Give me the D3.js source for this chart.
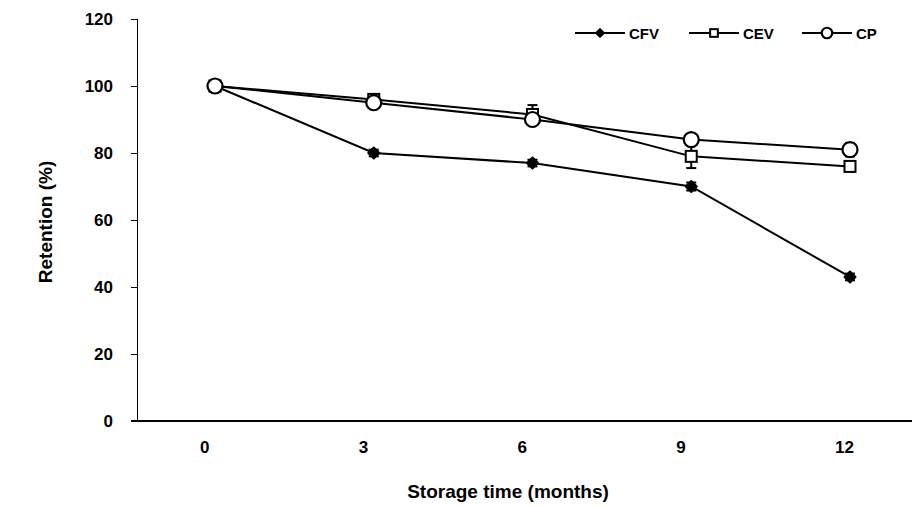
<!DOCTYPE html>
<html>
<head>
<meta charset="utf-8">
<script src="https://cdn.jsdelivr.net/npm/d3@7"></script>
<style>
  body { margin: 0; background: #fff; }
  text { font-family: "Liberation Sans", Arial, sans-serif; font-weight: bold; fill: #000; }
</style>
</head>
<body>
<svg width="915" height="507"></svg>
<script>
// data
var months = [0, 3, 6, 9, 12];
var yTicks = [0, 20, 40, 60, 80, 100, 120];

var cfv = [100, 80, 77, 70, 43];
var cfvErr = [0, 1, 1, 1.2, 1];
var cev = [100, 96, 91.5, 79, 76];
var cevErr = [0, 1, 2.8, 3.5, 1.5];
var cp = [100, 95, 90, 84, 81];
var cpErr = [0, 1, 1.5, 1, 2];

var svg = d3.select("svg");

var x = d3.scalePoint().domain(months).range([215, 850]);
var y = d3.scaleLinear().domain([0, 120]).range([421, 19]);

// y axis
var yAxis = svg.append("g")
    .attr("transform", "translate(137,0)")
    .call(d3.axisLeft(y).tickValues(yTicks).tickSize(6).tickPadding(18));
yAxis.attr("font-family", null).attr("font-size", null);
yAxis.select(".domain").attr("stroke", "#000").attr("d", "M0.5,19V421");
yAxis.selectAll(".tick line").attr("stroke", "#000").attr("x1", 0.5).attr("x2", -6);
yAxis.selectAll(".tick text").style("font-size", "17px");

// x axis line (thicker), no ticks
svg.append("line")
    .attr("x1", 131).attr("x2", 912)
    .attr("y1", y(0)).attr("y2", y(0))
    .attr("stroke", "#000").attr("stroke-width", 2);

svg.append("g").selectAll("text")
    .data(months)
    .enter().append("text")
    .attr("x", function(d) { return x(d) - 15; })
    .attr("y", 453)
    .attr("text-anchor", "start")
    .style("font-size", "17px")
    .text(function(d) { return d; });

// axis titles
svg.append("text")
    .attr("x", 508).attr("y", 498)
    .attr("text-anchor", "middle")
    .style("font-size", "19px")
    .text("Storage time (months)");

svg.append("text")
    .attr("transform", "translate(52,222) rotate(-90)")
    .attr("text-anchor", "middle")
    .style("font-size", "19px")
    .text("Retention (%)");

var series = [
  { name: "CFV", vals: cfv, err: cfvErr, sym: "diamond" },
  { name: "CEV", vals: cev, err: cevErr, sym: "square" },
  { name: "CP", vals: cp, err: cpErr, sym: "circle" }
];

var line = d3.line()
    .x(function(d, i) { return x(months[i]); })
    .y(function(d) { return y(d); });

// lines
svg.append("g").selectAll("path")
    .data(series)
    .enter().append("path")
    .attr("d", function(s) { return line(s.vals); })
    .attr("fill", "none")
    .attr("stroke", "#000")
    .attr("stroke-width", 2);

// error bars
series.forEach(function(s) {
  var g = svg.append("g");
  s.vals.forEach(function(v, i) {
    if (!s.err[i]) return;
    var cx = x(months[i]);
    g.append("line")
      .attr("x1", cx).attr("x2", cx)
      .attr("y1", y(v - s.err[i])).attr("y2", y(v + s.err[i]))
      .attr("stroke", "#000").attr("stroke-width", 2);
    [v - s.err[i], v + s.err[i]].forEach(function(e) {
      g.append("line")
        .attr("x1", cx - 5).attr("x2", cx + 5)
        .attr("y1", y(e)).attr("y2", y(e))
        .attr("stroke", "#000").attr("stroke-width", 2);
    });
  });
});

function drawMarker(g, kind, cx, cy, scale) {
  if (kind == "circle") {
    g.append("circle")
      .attr("cx", cx).attr("cy", cy).attr("r", 7.5 * scale)
      .attr("fill", "#fff").attr("stroke", "#000").attr("stroke-width", 2.2);
  } else if (kind == "square") {
    var s = 11 * scale;
    g.append("rect")
      .attr("x", cx - s / 2).attr("y", cy - s / 2)
      .attr("width", s).attr("height", s)
      .attr("fill", "#fff").attr("stroke", "#000").attr("stroke-width", 2);
  } else {
    var r = 5.5 * scale;
    g.append("path")
      .attr("d", "M" + cx + "," + (cy - r) + "L" + (cx + r) + "," + cy +
                 "L" + cx + "," + (cy + r) + "L" + (cx - r) + "," + cy + "Z")
      .attr("fill", "#000").attr("stroke", "#000").attr("stroke-width", 2)
      .attr("stroke-linejoin", "round");
  }
}

// markers (draw CFV, CEV, CP in that order so circles sit on top)
series.forEach(function(s) {
  var g = svg.append("g");
  s.vals.forEach(function(v, i) {
    drawMarker(g, s.sym, x(months[i]), y(v), 1);
  });
});

// legend
var legendX = [575, 689, 802];
var leg = svg.append("g");
series.forEach(function(s, i) {
  var lx = legendX[i];
  var lineW = 50;
  leg.append("line")
    .attr("x1", lx).attr("x2", lx + lineW)
    .attr("y1", 33).attr("y2", 33)
    .attr("stroke", "#000").attr("stroke-width", 2);
  drawMarker(leg, s.sym, lx + lineW / 2, 33, 0.7);
  leg.append("text")
    .attr("x", lx + lineW + 4).attr("y", 38.5)
    .style("font-size", "15px")
    .text(s.name);
});
</script>
</body>
</html>
